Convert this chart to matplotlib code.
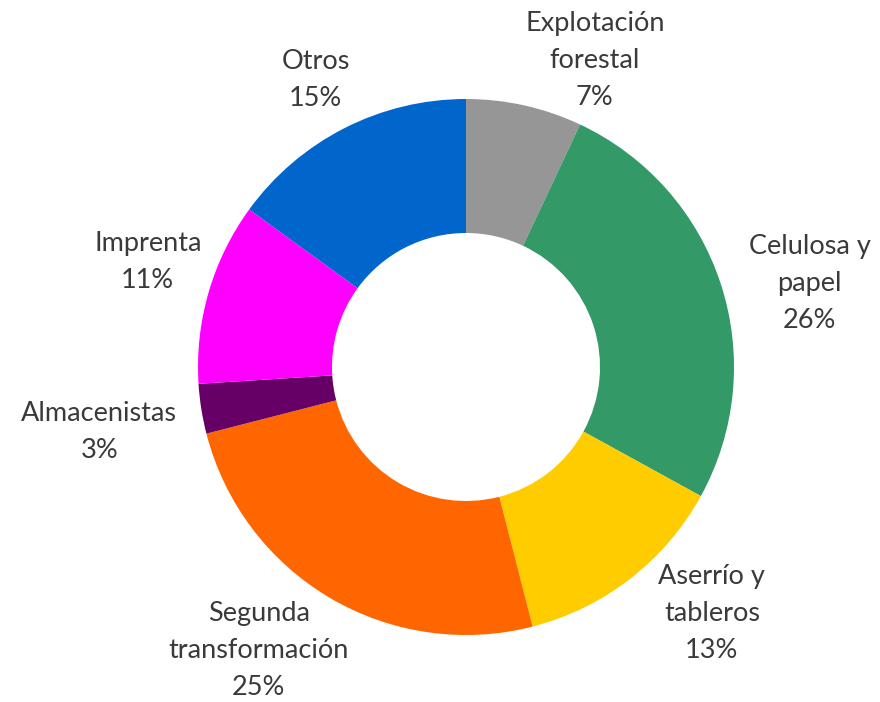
import numpy as np
import matplotlib.pyplot as plt

plt.rcParams['font.family'] = ['Lato', 'DejaVu Sans']

# Data
sectores = ['Explotación\nforestal', 'Celulosa y\npapel', 'Aserrío y\ntableros',
            'Segunda\ntransformación', 'Almacenistas', 'Imprenta', 'Otros']
valores = [7, 26, 13, 25, 3, 11, 15]
colores = ['#969696', '#339966', '#FFCC00', '#FF6600', '#660066', '#FF00FF', '#0066CC']

# label placement: distance from centre (in radii) and angle nudge (deg)
label_dist = [1.24, 1.32, 1.30, 1.31, 1.39, 1.25, 1.21]
label_nudge = [-10.2, -4.3, 7.1, -5.6, 1.1, -2.0, 0.6]

fig = plt.figure(figsize=(8.8, 7.02), dpi=100)
ax = fig.add_axes([0, 0, 1, 1])

wedges, _ = ax.pie(valores, colors=colores, startangle=90, counterclock=False,
                   radius=1.0, wedgeprops=dict(width=0.5, linewidth=0))

total = sum(valores)
for w, nombre, v, d, n in zip(wedges, sectores, valores, label_dist, label_nudge):
    mid = (w.theta1 + w.theta2) / 2 + n
    x = d * np.cos(np.radians(mid))
    y = d * np.sin(np.radians(mid))
    ax.text(x, y, f'{nombre}\n{round(100 * v / total)}%', ha='center', va='center',
            fontsize=19.5, color='#3a3a3a', linespacing=1.6)

# centre at (466, 367) px, radius 268 px
ax.set_xlim(-466 / 268, (880 - 466) / 268)
ax.set_ylim(-(702 - 367) / 268, 367 / 268)
ax.set_aspect('equal')
ax.axis('off')

fig.savefig('out.png', dpi=100)
